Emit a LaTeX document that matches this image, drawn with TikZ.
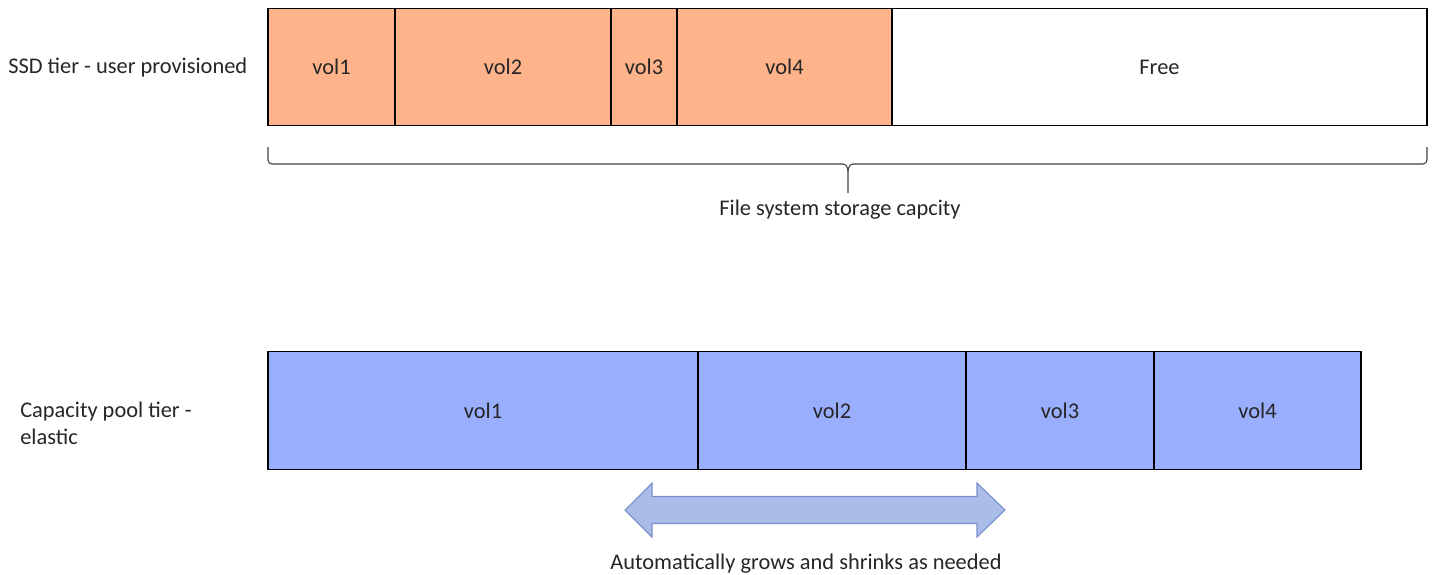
\documentclass[tikz,border=0pt]{standalone}
\usepackage{fontspec}
\setmainfont{Carlito}
\usepackage{tikz}
\usetikzlibrary{calc, positioning}

\definecolor{SsdFill}{HTML}{FFB38A}
\definecolor{PoolFill}{HTML}{99AEFC}
\definecolor{ArrowFill}{HTML}{AABDE8}
\definecolor{ArrowDraw}{HTML}{7890CC}
\definecolor{Ink}{HTML}{262626}

\providecommand{\Slot}[6]{%
  % name, left x, right x, middle y, fill, label (px)
  \node[slot, fill=#5, minimum width={(#3-#2)*0.75pt}] (#1) at ({(#2+#3)/2}, #4) {#6};
}

\begin{document}
\begin{tikzpicture}[x=0.75pt, y=-0.75pt, font=\fontsize{16.8}{20}\selectfont,
  slot/.style={draw=black, line width=0.9pt, inner sep=0pt, outer sep=0pt, minimum height=88.2pt, text=Ink},
  tier/.style={anchor=west, inner sep=0pt, text=Ink, align=left},
  caption/.style={inner sep=0pt, text=Ink}]

  \useasboundingbox (0,0) rectangle (1436,575);

  % SSD tier
  \Slot{s1}{268}{395}{67}{SsdFill}{vol1}
  \Slot{s2}{395}{611}{67}{SsdFill}{vol2}
  \Slot{s3}{611}{677}{67}{SsdFill}{vol3}
  \Slot{s4}{677}{892}{67}{SsdFill}{vol4}
  \Slot{free}{892}{1427}{67}{white}{Free}
  \node[tier] (ssd) at (8,68) {SSD tier - user provisioned};

  % brace under the SSD tier
  \coordinate (bl) at (268,147);
  \coordinate (br) at (1427,147);
  \coordinate (bt) at (848,193);
  \draw[black!75, line width=0.8pt] (bl) -- ++(0,13) to[out=-90, in=180] ++(4,4) -- ($(bt)+(-5,-29)$)
    to[out=0, in=90] ($(bt)+(0,-18)$) -- (bt) -- ($(bt)+(0,-18)$) to[out=90, in=180] ($(bt)+(5,-29)$)
    -- ($(br)+(-4,17)$) to[out=0, in=-90] ++(4,-4) -- (br);
  \node[caption] (cap) at (840,210) {File system storage capcity};

  % capacity pool tier
  \Slot{p1}{268}{698}{410.5}{PoolFill}{vol1}
  \Slot{p2}{698}{966}{410.5}{PoolFill}{vol2}
  \Slot{p3}{966}{1154}{410.5}{PoolFill}{vol3}
  \Slot{p4}{1154}{1361}{410.5}{PoolFill}{vol4}
  \node[tier] (pool) at (20,423) {Capacity pool tier -\\elastic};

  % elastic arrow
  \coordinate (al) at (625,510);
  \coordinate (ar) at (1005,510);
  \filldraw[fill=ArrowFill, draw=ArrowDraw, line width=0.8pt] (al) -- ++(27,-27) -- ++(0,13.5) -- ($(ar)+(-28,-13.5)$)
    -- ++(0,-13.5) -- (ar) -- ++(-28,27) -- ++(0,-13.5) -- ($(al)+(27,13.5)$) -- ++(0,13.5) -- cycle;
  \node[caption] (grow) at (806,564) {Automatically grows and shrinks as needed};

\end{tikzpicture}
\end{document}
